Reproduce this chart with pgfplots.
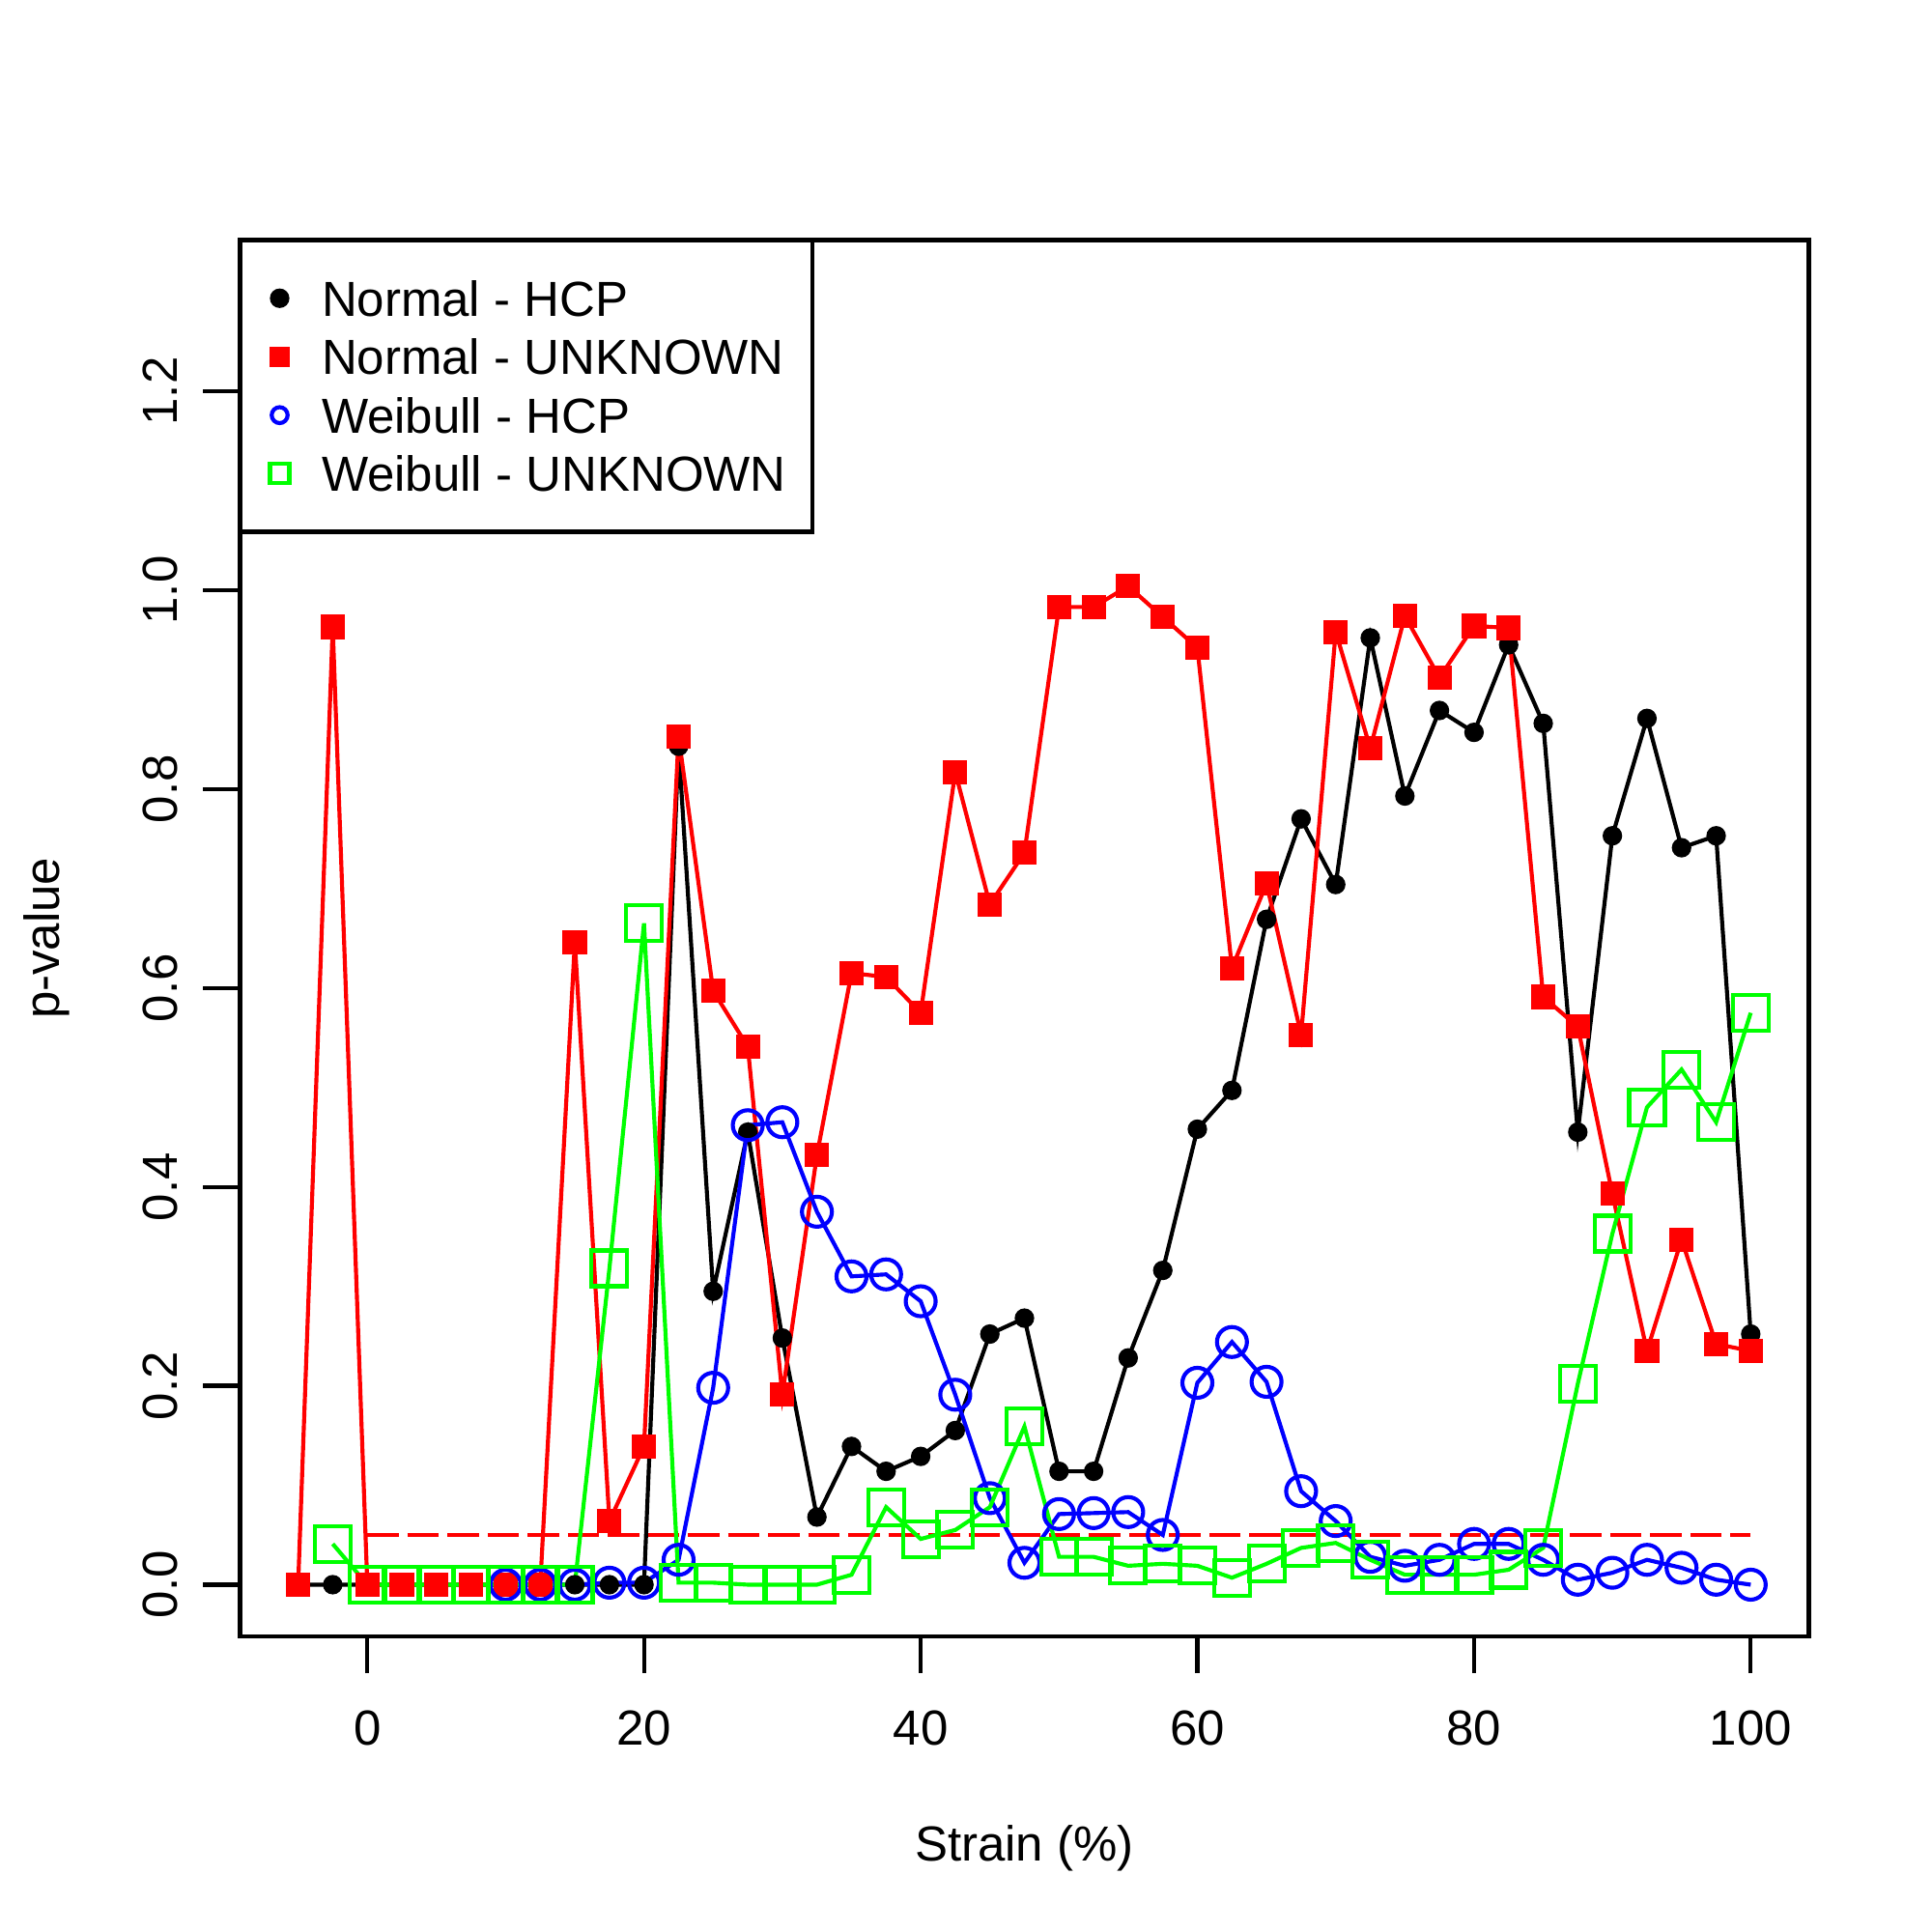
\documentclass[border=0pt]{standalone}
\usepackage{fontspec}
\setmainfont{Liberation Sans}
\usepackage{pgfplots}
\pgfplotsset{compat=1.18}
\definecolor{rgreen}{RGB}{0,255,0}
\begin{document}
\begin{tikzpicture}
\useasboundingbox (0,0) rectangle (400pt,400pt);
\begin{axis}[
  at={(49.7pt,61.2pt)}, anchor=south west,
  scale only axis, width=324.8pt, height=289.1pt,
  xmin=-9.2, xmax=104.2, ymin=-0.052, ymax=1.352,
  xtick={0,20,40,60,80,100}, ytick={0,0.2,0.4,0.6,0.8,1.0,1.2},
  xtick pos=left, ytick pos=left,
  tick align=outside, major tick length=7.6pt,
  tick style={line width=0.83pt, black},
  axis line style={line width=0.83pt},
  font=\fontsize{10.2}{12}\selectfont,
  /pgf/number format/assume math mode=true,
  yticklabel={\pgfmathprintnumber[fixed,fixed zerofill,precision=1]{\tick}},
  xticklabel style={anchor=center, yshift=-11.4pt},
  yticklabel style={rotate=90, anchor=center, yshift=8.9pt},
  xlabel={Strain (\%)}, ylabel={p-value},
  xlabel style={at={(axis description cs:0.5,-0.1519)}, anchor=center},
  ylabel style={at={(axis description cs:-0.1232,0.5)}, anchor=center},
  legend cell align=left,
  legend style={at={(0,1)}, anchor=north west, draw=black, line width=0.83pt,
    inner xsep=5.5pt, inner ysep=6pt, outer sep=0pt, row sep=0pt, column sep=5.7pt,
    font=\fontsize{10.2}{12}\selectfont, nodes={inner sep=0pt, yshift=-0.8pt}},
  legend image code/.code={\path[draw=none,fill=none] (-2.7pt,-6.05pt) rectangle (3pt,6.05pt); \draw[#1] plot coordinates {(0pt,0pt)};},
  every axis plot/.append style={line width=0.83pt},
]
\addplot[color=black, mark=*, mark size=1.6pt, legend image post style={mark size=1.6pt}] coordinates {
(-5,0)(-2.5,0)(0,0)(2.5,0)(5,0)(7.5,0)(10,0)(12.5,0)(15,0)(17.5,0)(20,0)
(22.5,0.843)(25,0.295)(27.5,0.455)(30,0.248)(32.5,0.068)(35,0.139)(37.5,0.114)(40,0.129)
(42.5,0.155)(45,0.252)(47.5,0.268)(50,0.114)(52.5,0.114)(55,0.228)(57.5,0.316)(60,0.458)
(62.5,0.497)(65,0.669)(67.5,0.770)(70,0.704)(72.5,0.952)(75,0.793)(77.5,0.879)(80,0.857)
(82.5,0.945)(85,0.866)(87.5,0.455)(90,0.753)(92.5,0.871)(95,0.741)(97.5,0.753)(100,0.252)};
\addlegendentry{Normal - HCP}
\addplot[color=red, mark=square*, mark size=2.1pt, legend image post style={mark size=1.65pt}] coordinates {
(-5,0)(-2.5,0.963)(0,0)(2.5,0)(5,0)(7.5,0)(10,0)(12.5,0)(15,0.646)(17.5,0.064)(20,0.139)
(22.5,0.853)(25,0.597)(27.5,0.541)(30,0.191)(32.5,0.432)(35,0.615)(37.5,0.611)(40,0.575)
(42.5,0.817)(45,0.684)(47.5,0.736)(50,0.983)(52.5,0.983)(55,1.004)(57.5,0.973)(60,0.942)
(62.5,0.620)(65,0.705)(67.5,0.553)(70,0.958)(72.5,0.841)(75,0.974)(77.5,0.912)(80,0.964)
(82.5,0.962)(85,0.591)(87.5,0.561)(90,0.393)(92.5,0.235)(95,0.347)(97.5,0.242)(100,0.235)};
\addlegendentry{Normal - UNKNOWN}
\addplot[color=red, line width=0.9pt, dash pattern=on 6.5pt off 1.8pt, forget plot] coordinates {(0,0.05)(100,0.05)};
\addplot[color=blue, mark=o, mark size=3.1pt, legend image post style={mark size=1.65pt}] coordinates {
(10,0)(12.5,0)(15,0)(17.5,0.002)(20,0.002)
(22.5,0.025)(25,0.198)(27.5,0.462)(30,0.465)(32.5,0.375)(35,0.310)(37.5,0.312)(40,0.285)
(42.5,0.191)(45,0.087)(47.5,0.022)(50,0.071)(52.5,0.072)(55,0.073)(57.5,0.050)(60,0.203)
(62.5,0.244)(65,0.204)(67.5,0.094)(70,0.064)(72.5,0.028)(75,0.019)(77.5,0.025)(80,0.041)
(82.5,0.041)(85,0.025)(87.5,0.005)(90,0.012)(92.5,0.025)(95,0.017)(97.5,0.005)(100,0)};
\addlegendentry{Weibull - HCP}
\addplot[color=rgreen, mark=square, mark size=3.7pt, legend image post style={mark size=2pt}] coordinates {
(-2.5,0.041)(0,0)(2.5,0)(5,0)(7.5,0)(10,0)(12.5,0)(15,0)(17.5,0.318)(20,0.665)
(22.5,0.002)(25,0.002)(27.5,0)(30,0)(32.5,0)(35,0.010)(37.5,0.078)(40,0.046)
(42.5,0.055)(45,0.078)(47.5,0.159)(50,0.028)(52.5,0.028)(55,0.019)(57.5,0.021)(60,0.019)
(62.5,0.007)(65,0.021)(67.5,0.037)(70,0.042)(72.5,0.025)(75,0.010)(77.5,0.010)(80,0.010)
(82.5,0.015)(85,0.037)(87.5,0.202)(90,0.353)(92.5,0.480)(95,0.518)(97.5,0.465)(100,0.575)};
\addlegendentry{Weibull - UNKNOWN}
\end{axis}
\end{tikzpicture}
\end{document}
